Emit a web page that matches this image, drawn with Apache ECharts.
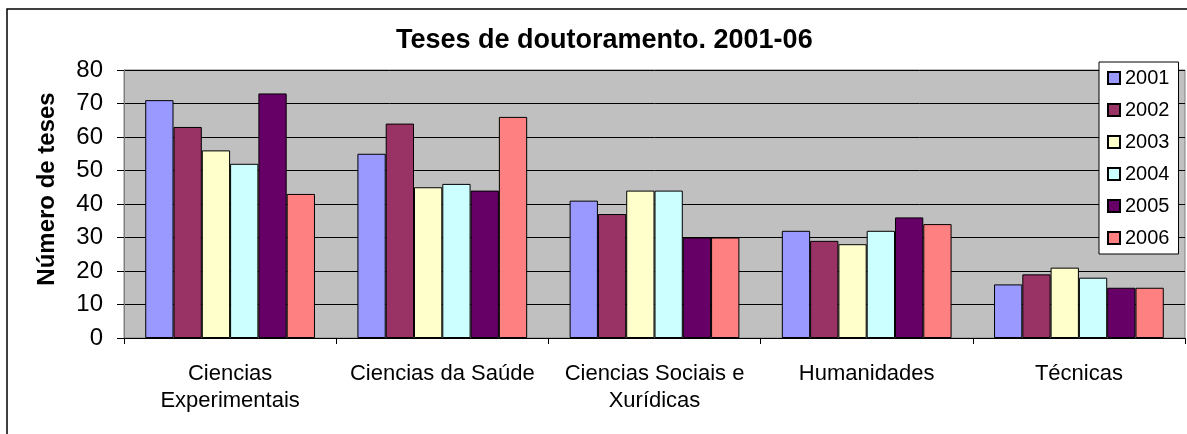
<!DOCTYPE html>
<html>
<head>
<meta charset="utf-8">
<title>Teses de doutoramento. 2001-06</title>
<script src="https://cdn.jsdelivr.net/npm/echarts@6/dist/echarts.min.js"></script>
<style>
  html, body { margin: 0; padding: 0; background: #fff; }
  #chart { width: 1187px; height: 434px; }
</style>
</head>
<body>
<div id="chart"></div>
<script>
// data
const categories = ['Ciencias\nExperimentais', 'Ciencias da Saúde', 'Ciencias Sociais e\nXurídicas', 'Humanidades', 'Técnicas']
const years = ['2001', '2002', '2003', '2004', '2005', '2006']
const v2001 = [71, 55, 41, 32, 16]
const v2002 = [63, 64, 37, 29, 19]
const v2003 = [56, 45, 44, 28, 21]
const v2004 = [52, 46, 44, 32, 18]
const v2005 = [73, 44, 30, 36, 15]
const v2006 = [43, 66, 30, 34, 15]
const colors = ['#9999FF', '#993366', '#FFFFCC', '#CCFFFF', '#660066', '#FF8080']

const font = 'Liberation Sans, Arial, sans-serif'
const values = [v2001, v2002, v2003, v2004, v2005, v2006]

const chart = echarts.init(document.getElementById('chart'))

const series = years.map((y, i) => ({
  name: y,
  type: 'bar',
  data: values[i],
  barGap: '0%',
  barCategoryGap: '20%',
  itemStyle: { color: colors[i], borderColor: '#000', borderWidth: 1 }
}))

chart.setOption({
  animation: false,
  textStyle: { fontFamily: font },
  color: colors,
  graphic: [{
    type: 'rect',
    shape: { x: 7, y: 9, width: 1200, height: 440 },
    style: { fill: 'none', stroke: '#000', lineWidth: 1.5 },
    z: 100
  }],
  title: {
    text: 'Teses de doutoramento. 2001-06',
    left: 396,
    top: 27,
    padding: 0,
    textStyle: { fontFamily: font, fontSize: 27, fontWeight: 'bold', color: '#000' }
  },
  legend: {
    orient: 'vertical',
    left: 1099,
    top: 62,
    padding: [6, 9, 6, 8],
    itemWidth: 12,
    itemHeight: 12,
    itemGap: 12,
    icon: 'rect',
    backgroundColor: '#fff',
    borderColor: '#000',
    borderWidth: 1,
    textStyle: { fontFamily: font, fontSize: 20, lineHeight: 20, color: '#000' },
    data: years
  },
  grid: {
    left: 124,
    right: 2,
    top: 70,
    bottom: 96,
    show: true,
    backgroundColor: '#C0C0C0',
    borderColor: '#808080',
    borderWidth: 1
  },
  xAxis: {
    type: 'category',
    data: categories,
    axisLine: { lineStyle: { color: '#000', width: 1 } },
    axisTick: { show: true, length: 6, lineStyle: { color: '#000' } },
    axisLabel: { fontFamily: font, fontSize: 22, lineHeight: 27, color: '#000', margin: 22, interval: 0 }
  },
  yAxis: {
    type: 'value',
    min: 0,
    max: 80,
    interval: 10,
    name: 'Número de teses',
    nameLocation: 'middle',
    nameGap: 65,
    nameTextStyle: { fontFamily: font, fontSize: 24, fontWeight: 'bold', color: '#000', padding: [0, 0, 0, 30] },
    axisLine: { show: true, lineStyle: { color: '#808080' } },
    axisTick: { show: true, length: 7, lineStyle: { color: '#000' } },
    axisLabel: { fontFamily: font, fontSize: 24, color: '#000', margin: 21 },
    splitLine: { lineStyle: { color: '#000', width: 1 } }
  },
  series: series
})

window.addEventListener('resize', () => {
  chart.resize()
})
</script>
</body>
</html>
